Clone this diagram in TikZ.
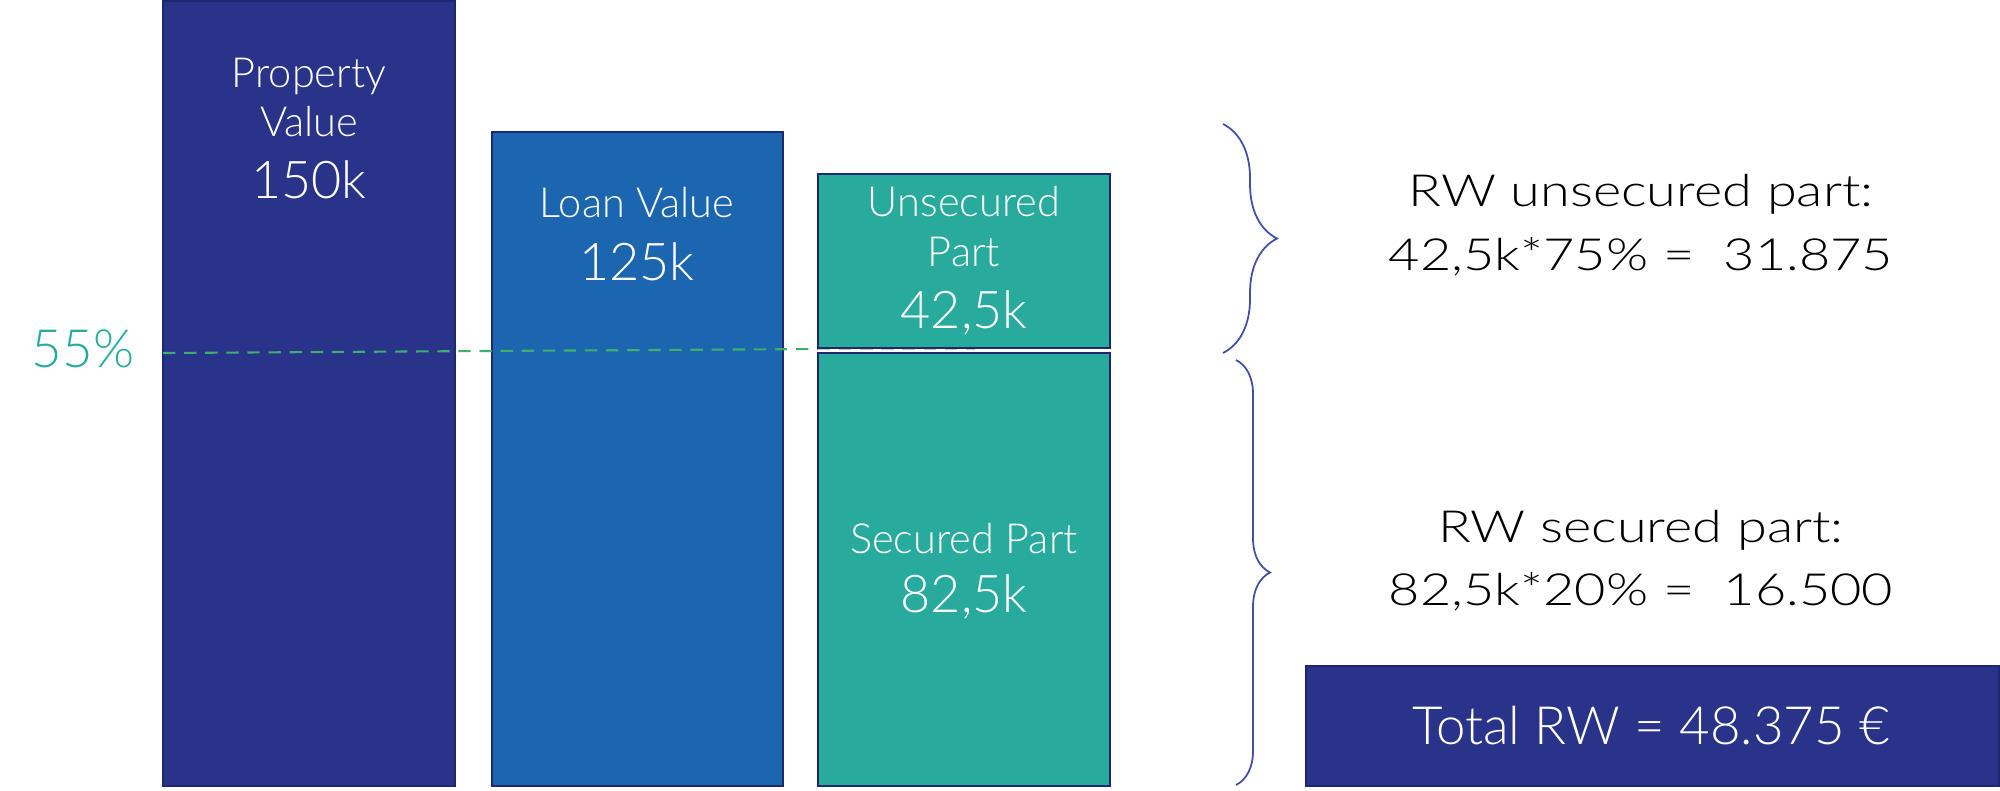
\documentclass[tikz,border=0pt]{standalone}
\usepackage{fontspec}
\IfFontExistsTF{Lato Light}{\setmainfont{Lato Light}}{\setmainfont{Lato}}
\usepackage{tikz}
\usetikzlibrary{decorations.pathreplacing}

\definecolor{navy}{HTML}{283389}
\definecolor{navyline}{HTML}{1F276E}
\definecolor{loanblue}{HTML}{1C66AF}
\definecolor{partteal}{HTML}{28AB9D}
\definecolor{dashgreen}{HTML}{3DB06B}
\definecolor{bracecol}{HTML}{4050A8}

\newcommand{\wide}[1]{\scalebox{1.22}[1]{#1}}

\begin{document}
\begin{tikzpicture}[x=0.01cm, y=-0.01cm,
		box/.style={draw=navyline, line width=0.8pt},
		lbl/.style={text=white, anchor=base, inner sep=0pt, font=\fontsize{11.8}{14}\selectfont},
		val/.style={text=white, anchor=base, inner sep=0pt, font=\fontsize{14.8}{17}\selectfont},
		rw/.style={text=black, anchor=base, inner sep=0pt, font=\fontsize{12.6}{15}\selectfont},
		brc/.style={draw=bracecol, line width=0.5pt, decorate}]
	\useasboundingbox (0,0) rectangle (2000,791);
	% bars
	\filldraw[box, fill=navy] (163,1) rectangle (455,786);
	\filldraw[box, fill=loanblue] (492,132) rectangle (783,786);
	\node[lbl] (propname) at (309,88) {Property};
	\node[lbl] (propname2) at (309,137) {Value};
	\node[val] (propval) at (309,199) {150k};
	\node[lbl] (loanname) at (637,218) {Loan Value};
	\node[val] (loanval) at (637,281) {125k};
	% 55% line
	\node[text=partteal, anchor=base, inner sep=0pt, font=\fontsize{15}{18}\selectfont] (ltv) at (83,367) {55\%};
	\draw[dashgreen, line width=0.6pt, dash pattern=on 3.5pt off 2.5pt] (163,353) -- (818,349);
	\draw[gray!45, line width=0.6pt, dash pattern=on 3.5pt off 2.5pt] (818,349) -- (975,349);
	% split of the loan
	\filldraw[box, fill=partteal] (818,174) rectangle (1110,348);
	\filldraw[box, fill=partteal] (818,353) rectangle (1110,786);
	\node[lbl] (unsname) at (964,217) {Unsecured};
	\node[lbl] (unsname2) at (964,267) {Part};
	\node[val] (unsval) at (964,328) {42,5k};
	\node[lbl] (secname) at (964,553) {Secured Part};
	\node[val] (secval) at (964,612) {82,5k};
	% braces
	\coordinate (unstop) at (1223,124);
	\coordinate (unsbot) at (1223,353);
	\coordinate (sectop) at (1236,360);
	\coordinate (secbot) at (1236,785);
	\draw[brc, decoration={brace, amplitude=0.54cm}] (unstop) -- (unsbot);
	\draw[brc, decoration={brace, amplitude=0.34cm}] (sectop) -- (secbot);
	% risk weights
	\node[rw] (rwuns) at (1641,207) {\wide{RW unsecured part:}};
	\node[rw] (rwunscalc) at (1641,270) {\wide{42,5k*75\% = \ 31.875}};
	\node[rw] (rwsec) at (1641,542) {\wide{RW secured part:}};
	\node[rw] (rwseccalc) at (1641,605) {\wide{82,5k*20\% = \ 16.500}};
	\filldraw[box, fill=navy] (1306,666) rectangle (1999,786);
	\node[text=white, anchor=base, inner sep=0pt, font=\fontsize{15}{18}\selectfont] (total) at (1651,744) {Total RW = 48.375 €};
\end{tikzpicture}
\end{document}
